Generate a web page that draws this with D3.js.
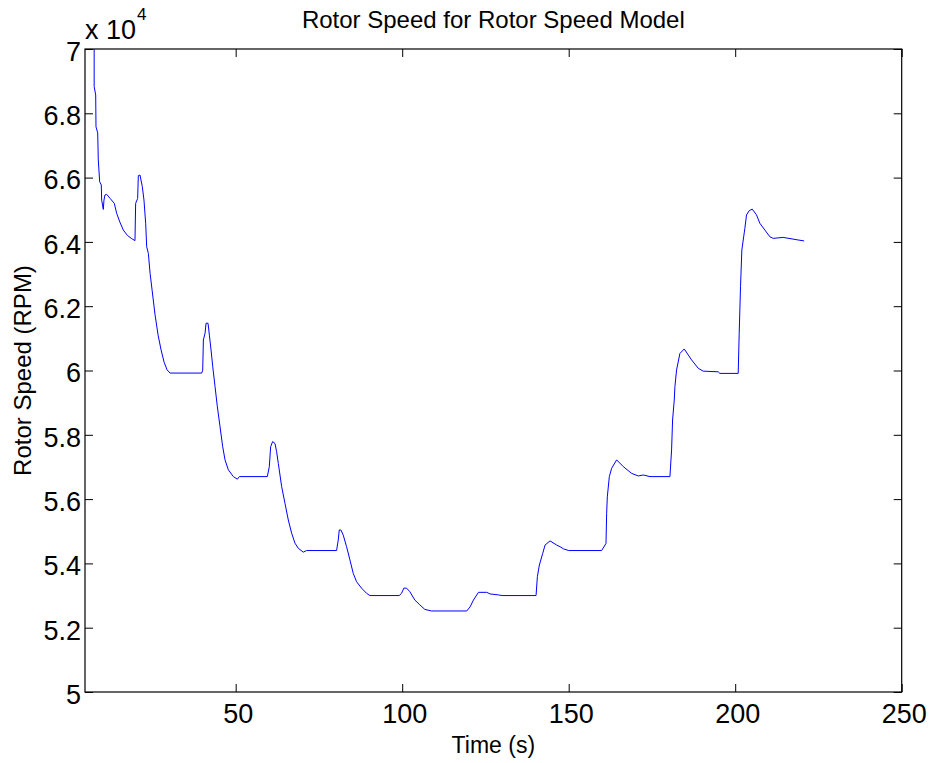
<!DOCTYPE html>
<html>
<head>
<meta charset="utf-8">
<script src="https://cdn.jsdelivr.net/npm/d3@7"></script>
<style>
  html, body { margin: 0; padding: 0; background: #fff; }
  svg { display: block; }
  text { font-family: "Liberation Sans", Arial, sans-serif; fill: #000; }
</style>
</head>
<body>
<svg id="chart" width="936" height="763"></svg>
<script>
// ---- data ----
const timeS = [4.75, 7.3, 7.5, 7.5, 7.96, 8.05, 8.56, 8.74, 9.16, 9.64, 9.76, 10.24, 10.45, 10.75, 11.26, 12.3, 13.54, 14.26, 15.2, 16.25, 17.5, 18.8, 19.76, 19.96, 20.56, 20.76, 21.26, 21.96, 22.46, 22.97, 23.27, 23.78, 24.3, 24.9, 25.8, 26.7, 27.6, 28.5, 29.4, 30.3, 39.8,
  40.1, 40.3, 40.8, 41.1, 41.7, 42.1, 42.6, 43.1, 43.8, 44.5, 45.3, 46.1, 46.8, 47.8, 49.3, 50.5, 51.1, 59.5,
  60.1, 60.5, 61.1, 61.8, 62.3, 62.8, 63.8, 64.8, 65.8, 66.8, 67.8, 68.8, 70.3, 71.3, 80.3,
  80.8, 81.1, 81.6, 82.3, 83.3, 84.3, 85.3, 86.3, 87.8, 89.3, 90.3, 99.1,
  99.8, 100.5, 101.3, 102.3, 103.8, 105.3, 106.8, 108.8, 119.4,
  120.4, 121.4, 122.9, 125.4, 126.4, 128.9, 130.0, 140.2,
  140.6, 141.2, 142.2, 142.9, 144.4, 146.4, 147.4, 148.5, 150.0, 159.9,
  161.2, 161.4, 161.6, 162.2, 162.9, 164.4, 166.4, 168.9, 170.9, 172.4, 174.4, 180.4,
  180.9, 181.2, 181.7, 181.9, 182.4, 183.4, 184.7, 186.9, 188.9, 190.4, 194.9, 195.4, 200.9,
  201.2, 201.6, 202.0, 202.9, 203.4, 204.2, 205.1, 206.4, 207.4, 208.9, 210.4, 211.4, 214.4, 218.9, 220.7];
const speedRPM = [76000, 72500, 70000, 68830, 68570, 67580, 67390, 66550, 65870, 65770, 65300, 65010, 65300, 65460, 65480, 65350, 65200, 64890, 64620, 64370, 64200, 64100, 64040, 65200, 65350, 66060, 66080, 65720, 65300, 64580, 63850, 63640, 63020, 62500, 61720, 61100, 60640, 60260, 60020, 59920, 59920,
  60010, 60950, 61160, 61470, 61470, 61100, 60640, 60130, 59500, 58870, 58250, 57630, 57220, 56910, 56700, 56620, 56700, 56700,
  57010, 57630, 57790, 57730, 57470, 57110, 56390, 55870, 55350, 54940, 54630, 54470, 54350, 54400, 54400,
  54730, 55040, 55040, 54880, 54520, 54110, 53690, 53430, 53230, 53070, 53000, 53000,
  53070, 53230, 53230, 53120, 52860, 52710, 52570, 52520, 52520,
  52650, 52860, 53100, 53100, 53050, 53020, 53000, 53000,
  53590, 53950, 54310, 54570, 54700, 54570, 54520, 54450, 54400, 54400,
  54620, 55560, 56070, 56700, 56960, 57220, 57010, 56800, 56720, 56750, 56700, 56700,
  57530, 58460, 59080, 59500, 60020, 60530, 60670, 60330, 60070, 59980, 59960, 59910, 59910,
  61160, 62610, 63750, 64420, 64840, 64970, 65020, 64840, 64580, 64370, 64160, 64110, 64140, 64060, 64030];
const xTicks = [50, 100, 150, 200, 250];
const yTicks = [50000, 52000, 54000, 56000, 58000, 60000, 62000, 64000, 66000, 68000, 70000];
const yTickLabels = ["5", "5.2", "5.4", "5.6", "5.8", "6", "6.2", "6.4", "6.6", "6.8", "7"];
const titleText = "Rotor Speed for Rotor Speed Model";
const xLabelText = "Time (s)";
const yLabelText = "Rotor Speed (RPM)";

// ---- layout ----
const L = 85, R = 901.7, T = 49, B = 692;
const svg = d3.select("#chart");
const x = d3.scaleLinear().domain([4.75, 250]).range([L, R]);
const y = d3.scaleLinear().domain([50000, 70000]).range([B, T]);

// clip
svg.append("defs").append("clipPath").attr("id", "clip")
  .append("rect").attr("x", L).attr("y", T).attr("width", R - L).attr("height", B - T);

const data = timeS.map((t, i) => [t, speedRPM[i]]);
svg.append("path")
  .datum(data)
  .attr("clip-path", "url(#clip)")
  .attr("fill", "none")
  .attr("stroke", "#0000ff")
  .attr("stroke-width", 1)
  .attr("d", d3.line().x(d => x(d[0])).y(d => y(d[1])));

// axes (inward ticks, box)
const tickLen = 8;
const fmtY = (d) => yTickLabels[yTicks.indexOf(d)];
const axB = svg.append("g").attr("transform", `translate(0,${B})`)
  .call(d3.axisBottom(x).tickValues(xTicks).tickSizeInner(-tickLen).tickSizeOuter(0).tickPadding(12).tickFormat(d3.format("d")));
const axT = svg.append("g").attr("transform", `translate(0,${T})`)
  .call(d3.axisTop(x).tickValues(xTicks).tickSizeInner(-tickLen).tickSizeOuter(0).tickFormat(""));
const axL = svg.append("g").attr("transform", `translate(${L},0)`)
  .call(d3.axisLeft(y).tickValues(yTicks).tickSizeInner(-tickLen).tickSizeOuter(0).tickPadding(4).tickFormat(fmtY));
const axR = svg.append("g").attr("transform", `translate(${R},0)`)
  .call(d3.axisRight(y).tickValues(yTicks).tickSizeInner(-tickLen).tickSizeOuter(0).tickFormat(""));

[axB, axT, axL, axR].forEach(g => {
  g.select(".domain").remove();
  g.selectAll("line").attr("stroke", "#000").attr("stroke-width", 1);
});
axB.selectAll("text").attr("font-size", 27).attr("font-family", "Liberation Sans, Arial, sans-serif").attr("fill", "#000").attr("dy", "0.72em").attr("dx", 2);
axL.selectAll("text").attr("font-size", 27).attr("font-family", "Liberation Sans, Arial, sans-serif").attr("fill", "#000").attr("dy", "0.42em");

// box
svg.append("rect").attr("x", L).attr("y", T).attr("width", R - L).attr("height", B - T)
  .attr("fill", "none").attr("stroke", "#000").attr("stroke-width", 1.2);

// exponent label
svg.append("text").attr("x", L).attr("y", 39).attr("font-size", 27).text("x 10");
svg.append("text").attr("x", 137).attr("y", 20).attr("font-size", 17).text("4");

// title & labels
svg.append("text").attr("x", (L + R) / 2).attr("y", 28).attr("text-anchor", "middle")
  .attr("font-size", 24).text(titleText);
svg.append("text").attr("x", (L + R) / 2).attr("y", 753).attr("text-anchor", "middle")
  .attr("font-size", 23).text(xLabelText);
svg.append("text").attr("transform", `translate(31,${(T + B) / 2}) rotate(-90)`).attr("text-anchor", "middle")
  .attr("font-size", 24).text(yLabelText);
</script>
</body>
</html>
